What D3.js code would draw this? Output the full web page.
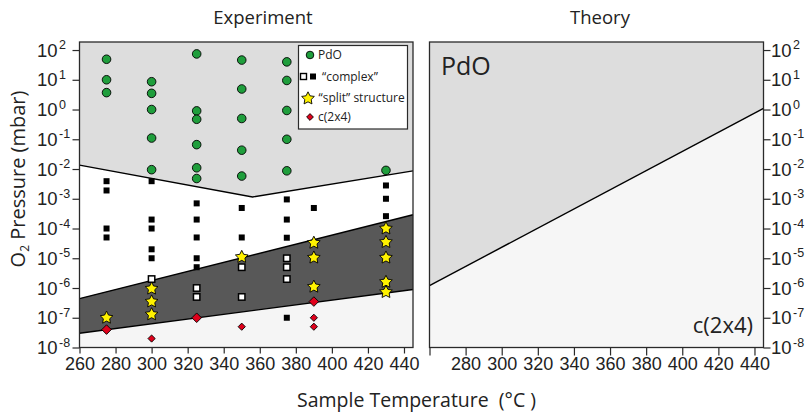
<!DOCTYPE html>
<html>
<head>
<meta charset="utf-8">
<script src="https://cdn.jsdelivr.net/npm/d3@7"></script>
<style>
  html, body { margin: 0; padding: 0; background: #fff; }
  svg { display: block; }
</style>
</head>
<body>
<svg id="chart" width="807" height="414"></svg>
<script>
// ---- data -------------------------------------------------------------
const tempTicks = [260, 280, 300, 320, 340, 360, 380, 400, 420, 440];
const theoryTempTicks = [260, 280, 300, 320, 340, 360, 380, 400, 420, 440];
const pressureExponents = [2, 1, 0, -1, -2, -3, -4, -5, -6, -7, -8];

// phase boundaries measured in the experiment panel (T in °C, p in mbar)
const pdoBoundary = [[260, 1.35e-2], [356, 1.15e-3], [445, 8.7e-3]];
const splitUpper = [[260, 4.4e-7], [445, 2.9e-4]];
const splitLower = [[260, 3.0e-8], [445, 8.9e-7]];
// calculated PdO / c(2x4) coexistence line
const theoryBoundary = [[260, 1.2e-6], [445, 1.1]];

// observed structures
const pdoPoints = [
  [275, 49], [275, 10], [275, 3.7],
  [300, 8.6], [300, 3.5], [300, 1.0], [300, 0.11], [300, 0.0095],
  [325, 74], [325, 0.9], [325, 0.47], [325, 0.066], [325, 0.011], [325, 0.0048],
  [350, 46], [350, 4.9], [350, 0.5], [350, 0.043], [350, 0.0058],
  [375, 40], [375, 9.5], [375, 0.93], [375, 0.1], [375, 0.0087],
  [430, 0.009]
];
const complexFilled = [
  [275, 3.9e-3], [275, 1.9e-3], [275, 1e-4], [275, 5e-5],
  [300, 3.9e-3], [300, 2e-4], [300, 1e-4], [300, 2e-5], [300, 1e-5],
  [325, 7e-4], [325, 2e-4], [325, 5e-5], [325, 1e-5], [325, 5e-6],
  [350, 4.9e-4], [350, 5e-5],
  [375, 9.5e-4], [375, 2e-4], [375, 4.9e-5], [375, 1e-7],
  [390, 4.9e-4],
  [430, 2.8e-3], [430, 1e-3], [430, 2.6e-4]
];
const complexOpen = [
  [300, 2e-6],
  [325, 1e-6], [325, 5e-7],
  [350, 5e-6], [350, 5e-7],
  [375, 1e-5], [375, 5e-6], [375, 2e-6]
];
const splitPoints = [
  [275, 1e-7],
  [300, 9.5e-7], [300, 3.5e-7], [300, 1.3e-7],
  [350, 1.1e-5],
  [390, 3.3e-5], [390, 1.05e-5], [390, 1.1e-6],
  [430, 1e-4], [430, 3.5e-5], [430, 1.05e-5], [430, 1.6e-6], [430, 7.3e-7]
];
// c(2x4) points lying on the lower band edge
const c2x4Edge = [[275, 4e-8], [325, 1e-7], [390, 3.5e-7]];
const c2x4Points = [[300, 2e-8], [350, 5e-8], [390, 1e-7], [390, 5e-8]];

const legendItems = ["PdO", "\u201Ccomplex\u201D", "\u201Csplit\u201D structure", "c(2x4)"];

// ---- layout -------------------------------------------------------------
const svg = d3.select("#chart");
const humanist = "'Open Sans', 'Noto Sans', sans-serif";
const numeric = "'Liberation Sans', Arial, sans-serif";

const yTop = 42, yBottom = 347.5;
const pDomain = [1e-8, Math.pow(10, 2.27)];
const tDomain = [260, 445];

const xL = d3.scaleLinear().domain(tDomain).range([79.5, 413]);
const xR = d3.scaleLinear().domain(tDomain).range([429.5, 763.5]);
const y = d3.scaleLog().domain(pDomain).range([yBottom, yTop]);

const COL = {
  pdo: "#dddddd",
  band: "#585858",
  low: "#f5f5f5",
  frame: "#2a2a2a",
  green: "#1f9e3c",
  yellow: "#fff200",
  red: "#e0001b"
};

// star with a blunter inner radius than d3.symbolStar
const fatStar = {
  draw(ctx, size) {
    const R = Math.sqrt(size / 1.3), r = R * 0.5;
    for (let i = 0; i < 10; i++) {
      const a = -Math.PI / 2 + i * Math.PI / 5;
      const rad = i % 2 ? r : R;
      const px = rad * Math.cos(a), py = rad * Math.sin(a);
      i ? ctx.lineTo(px, py) : ctx.moveTo(px, py);
    }
    ctx.closePath();
  }
};

// ---- experiment panel ---------------------------------------------------
const left = svg.append("g");
const lx0 = xL.range()[0], lx1 = xL.range()[1];

left.append("rect").attr("x", lx0).attr("y", yTop)
  .attr("width", lx1 - lx0).attr("height", yBottom - yTop).attr("fill", "#fff");

const pt = d => [xL(d[0]), y(d[1])];
// PdO region: above the upper boundary
left.append("path")
  .attr("d", d3.line()([[lx0, yTop], ...pdoBoundary.map(pt), [lx1, yTop]]) + "Z")
  .attr("fill", COL.pdo);
// split-structure band
left.append("path")
  .attr("d", d3.line()([...splitUpper.map(pt), ...splitLower.slice().reverse().map(pt)]) + "Z")
  .attr("fill", COL.band);
// c(2x4) region below the band
left.append("path")
  .attr("d", d3.line()([...splitLower.map(pt), [lx1, yBottom], [lx0, yBottom]]) + "Z")
  .attr("fill", COL.low);

[pdoBoundary, splitUpper, splitLower].forEach(b => {
  left.append("path").attr("d", d3.line()(b.map(pt)))
    .attr("fill", "none").attr("stroke", "#000").attr("stroke-width", 1.4);
});

// markers
left.selectAll("circle.pdo").data(pdoPoints).join("circle")
  .attr("class", "pdo")
  .attr("cx", d => xL(d[0])).attr("cy", d => y(d[1])).attr("r", 4.3)
  .attr("fill", COL.green).attr("stroke", "#000").attr("stroke-width", 0.9);

left.selectAll("rect.cf").data(complexFilled).join("rect")
  .attr("class", "cf")
  .attr("x", d => xL(d[0]) - 3).attr("y", d => y(d[1]) - 3)
  .attr("width", 6).attr("height", 6).attr("fill", "#000");

left.selectAll("rect.co").data(complexOpen).join("rect")
  .attr("class", "co")
  .attr("x", d => xL(d[0]) - 3.2).attr("y", d => y(d[1]) - 3.2)
  .attr("width", 6.4).attr("height", 6.4)
  .attr("fill", "#fff").attr("stroke", "#000").attr("stroke-width", 1.5);

const starPath = d3.symbol().type(fatStar).size(58)();
left.selectAll("path.split").data(splitPoints).join("path")
  .attr("class", "split")
  .attr("transform", d => `translate(${xL(d[0])},${y(d[1])})`)
  .attr("d", starPath)
  .attr("fill", COL.yellow).attr("stroke", "#000").attr("stroke-width", 0.9)
  .attr("stroke-linejoin", "round");

const diamond = s => `M0,${-s}L${s},0L0,${s}L${-s},0Z`;
left.selectAll("path.c24e").data(c2x4Edge).join("path")
  .attr("class", "c24e")
  .attr("transform", d => `translate(${xL(d[0])},${y(d[1])})`)
  .attr("d", diamond(4.8))
  .attr("fill", COL.red).attr("stroke", "#000").attr("stroke-width", 0.9);
left.selectAll("path.c24").data(c2x4Points).join("path")
  .attr("class", "c24")
  .attr("transform", d => `translate(${xL(d[0])},${y(d[1])})`)
  .attr("d", diamond(3.6))
  .attr("fill", COL.red).attr("stroke", "#000").attr("stroke-width", 0.9);

// legend
const lg = left.append("g");
lg.append("rect").attr("x", 298.5).attr("y", 45.5).attr("width", 109).attr("height", 83.5)
  .attr("fill", "#fff").attr("stroke", COL.frame).attr("stroke-width", 1.2);
const legY = [55, 76.5, 97.5, 117];
lg.append("circle").attr("cx", 310).attr("cy", legY[0]).attr("r", 3.8)
  .attr("fill", COL.green).attr("stroke", "#000").attr("stroke-width", 0.9);
lg.append("rect").attr("x", 300.5).attr("y", legY[1] - 3).attr("width", 6).attr("height", 6)
  .attr("fill", "#fff").attr("stroke", "#000").attr("stroke-width", 1.4);
lg.append("rect").attr("x", 310).attr("y", legY[1] - 3).attr("width", 6).attr("height", 6)
  .attr("fill", "#000");
lg.append("path").attr("transform", `translate(308,${legY[2] + 1})`).attr("d", starPath)
  .attr("fill", COL.yellow).attr("stroke", "#000").attr("stroke-width", 0.9);
lg.append("path").attr("transform", `translate(310,${legY[3]})`).attr("d", diamond(3.4))
  .attr("fill", COL.red).attr("stroke", "#000").attr("stroke-width", 0.9);
const legX = [318, 322, 318.5, 318];
lg.selectAll("text").data(legendItems).join("text")
  .attr("x", (d, i) => legX[i]).attr("y", (d, i) => legY[i] + 4.3)
  .attr("font-family", humanist).attr("font-size", 12).attr("fill", "#222")
  .text(d => d);

// frame
left.append("rect").attr("x", lx0).attr("y", yTop)
  .attr("width", lx1 - lx0).attr("height", yBottom - yTop)
  .attr("fill", "none").attr("stroke", COL.frame).attr("stroke-width", 1.3);

// ---- theory panel -------------------------------------------------------
const right = svg.append("g");
const rx0 = xR.range()[0], rx1 = xR.range()[1];
const ptR = d => [xR(d[0]), y(d[1])];
right.append("path")
  .attr("d", d3.line()([[rx0, yTop], ...theoryBoundary.map(ptR), [rx1, yTop]]) + "Z")
  .attr("fill", COL.pdo);
right.append("path")
  .attr("d", d3.line()([...theoryBoundary.map(ptR), [rx1, yBottom], [rx0, yBottom]]) + "Z")
  .attr("fill", "#f6f6f6");
right.append("path").attr("d", d3.line()(theoryBoundary.map(ptR)))
  .attr("fill", "none").attr("stroke", "#000").attr("stroke-width", 1.4);
right.append("rect").attr("x", rx0).attr("y", yTop)
  .attr("width", rx1 - rx0).attr("height", yBottom - yTop)
  .attr("fill", "none").attr("stroke", COL.frame).attr("stroke-width", 1.3);

right.append("text").attr("x", 441).attr("y", 75)
  .attr("font-family", humanist).attr("font-size", 25).attr("fill", "#222").text("PdO");
right.append("text").attr("x", 753).attr("y", 333).attr("text-anchor", "end")
  .attr("font-family", humanist).attr("font-size", 22).attr("fill", "#222").text("c(2x4)");

// ---- axes -----------------------------------------------------------------
function styleAxis(g) {
  g.select(".domain").remove();
  g.selectAll(".tick line").attr("stroke", COL.frame).attr("stroke-width", 1.2);
  g.selectAll(".tick text").attr("font-family", numeric).attr("font-size", 18)
    .attr("fill", "#222");
}

svg.append("g").attr("transform", `translate(0,${yBottom})`)
  .call(d3.axisBottom(xL).tickValues(tempTicks).tickSize(6).tickPadding(4).tickFormat(d3.format("d")))
  .call(styleAxis);

svg.append("g").attr("transform", `translate(0,${yBottom})`)
  .call(d3.axisBottom(xR).tickValues(theoryTempTicks).tickSize(8).tickPadding(2)
    .tickFormat(d => d === 260 ? "" : d3.format("d")(d)))
  .call(styleAxis);

const decades = pressureExponents.map(e => Math.pow(10, e));
svg.append("g").attr("transform", `translate(${lx0},0)`)
  .call(d3.axisLeft(y).tickValues(decades).tickSize(7).tickFormat(""))
  .call(styleAxis);
svg.append("g").attr("transform", `translate(${rx1},0)`)
  .call(d3.axisRight(y).tickValues(decades).tickSize(7).tickFormat(""))
  .call(styleAxis);

function powerLabels(g, x0) {
  g.selectAll("text.pow").data(pressureExponents).join("text")
    .attr("class", "pow")
    .attr("x", x0).attr("y", e => y(Math.pow(10, e)) + 6.5)
    .attr("font-family", numeric).attr("font-size", 18.5).attr("fill", "#222")
    .call(t => t.append("tspan").text("10"))
    .call(t => t.append("tspan").attr("dy", -7.5).attr("dx", 1.5).attr("font-size", 12.5)
      .text(e => e < 0 ? "-" + Math.abs(e) : e));
}
powerLabels(svg.append("g"), 37);
powerLabels(svg.append("g"), 771);

// ---- titles -------------------------------------------------------------
svg.append("text").attr("x", 263).attr("y", 24).attr("text-anchor", "middle")
  .attr("font-family", humanist).attr("font-size", 18.5).attr("fill", "#222").text("Experiment");
svg.append("text").attr("x", 600).attr("y", 24).attr("text-anchor", "middle")
  .attr("font-family", humanist).attr("font-size", 18.5).attr("fill", "#222").text("Theory");

svg.append("text").attr("x", 297).attr("y", 407)
  .attr("font-family", humanist).attr("font-size", 19.5).attr("fill", "#222")
  .attr("xml:space", "preserve")
  .text("Sample Temperature  (\u00B0C )");

const yl = svg.append("text")
  .attr("transform", "translate(25,179) rotate(-90)")
  .attr("text-anchor", "middle")
  .attr("font-family", humanist).attr("font-size", 20).attr("fill", "#222");
yl.append("tspan").text("O");
yl.append("tspan").attr("font-size", 12).attr("dy", 4).text("2");
yl.append("tspan").attr("dy", -4).text(" Pressure (mbar)");
</script>
</body>
</html>
